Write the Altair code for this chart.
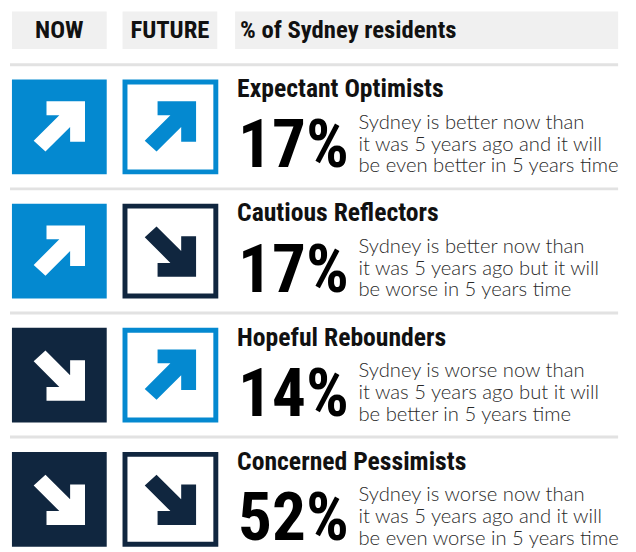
import altair as alt
import pandas as pd

# ---- data ----
headers = ["NOW", "FUTURE", "% of Sydney residents"]
groups = ["Expectant Optimists", "Cautious Reflectors", "Hopeful Rebounders", "Concerned Pessimists"]
shares = [17, 17, 14, 52]
now_dir = ["up", "up", "down", "down"]
future_dir = ["up", "down", "up", "down"]
desc_line1 = ["Sydney is better now than", "Sydney is better now than",
              "Sydney is worse now than", "Sydney is worse now than"]
desc_line2 = ["it was 5 years ago and it will", "it was 5 years ago but it will",
              "it was 5 years ago but it will", "it was 5 years ago and it will"]
desc_line3 = ["be even better in 5 years time", "be worse in 5 years time",
              "be better in 5 years time", "be even worse in 5 years time"]

# ---- styles ----
BLUE = "#0489d0"
NAVY = "#10263f"
COND = "Roboto Condensed, Noto Sans Condensed, Open Sans Condensed, Liberation Sans Narrow, DejaVu Sans Condensed, sans-serif"
BODY = "Lato, Open Sans, sans-serif"
UP_PATH = "M -0.5,-1 L 1,-1 L 1,0.58 L 0.42,0.58 L 0.42,0 L -0.54,0.96 L -1,0.54 L 0,-0.46 L -0.5,-0.46 Z"
DOWN_PATH = "M -0.5,1 L 1,1 L 1,-0.58 L 0.42,-0.58 L 0.42,0 L -0.54,-0.96 L -1,-0.54 L 0,0.46 L -0.5,0.46 Z"

header_df = pd.DataFrame({"col": list(range(len(headers))), "label": headers})
rows_df = pd.DataFrame({"i": list(range(len(groups))), "group": groups, "share": shares,
                        "now": now_dir, "future": future_dir})
desc_df = pd.DataFrame({
    "i": [i for i in range(len(groups)) for _ in range(3)],
    "line": [k for _ in range(len(groups)) for k in range(3)],
    "text": [t for trip in zip(desc_line1, desc_line2, desc_line3) for t in trip],
})

XS = alt.Scale(domain=[8, 636])
YS = alt.Scale(domain=[8, 552], reverse=True)
dir_color = alt.Scale(domain=["up", "down"], range=[BLUE, NAVY])
dir_shape = alt.Scale(domain=["up", "down"], range=[UP_PATH, DOWN_PATH])


def X(f):
    return alt.X(f, type="quantitative", scale=XS, axis=None)


def Y(f):
    return alt.Y(f, type="quantitative", scale=YS, axis=None)


# header boxes and labels
hdr = alt.Chart(header_df).transform_calculate(
    x0="[12, 124, 238][datum.col]",
    x1="[108, 220, 626][datum.col]",
    xc="[60, 172, 243][datum.col]",
    y0="8", y1="46", yb="35",
)
hdr_box = hdr.mark_rect(color="#f0f0f0").encode(x=X("x0"), x2="x1", y=Y("y0"), y2="y1")
hdr_txt_c = hdr.transform_filter("datum.col < 2").mark_text(
    font=COND, fontWeight="bold", fontSize=25, align="center", baseline="alphabetic", color="#111111"
).encode(x=X("xc"), y=Y("yb"), text="label:N")
hdr_txt_l = hdr.transform_filter("datum.col == 2").mark_text(
    font=COND, fontWeight="bold", fontSize=25, align="left", baseline="alphabetic", color="#111111"
).encode(x=X("xc"), y=Y("yb"), text="label:N")

base = alt.Chart(rows_df).transform_calculate(top="77 + 125.7 * datum.i")

sep = base.transform_calculate(ly="datum.top - 15", lx0="10", lx1="626").mark_rule(
    color="#e2e2e2", strokeWidth=3
).encode(x=X("lx0"), x2="lx1", y=Y("ly"))

now_box = base.transform_calculate(x0="12", x1="108", y0="datum.top", y1="datum.top + 96").mark_rect().encode(
    x=X("x0"), x2="x1", y=Y("y0"), y2="y1",
    color=alt.Color("now:N", scale=dir_color, legend=None),
)
fut_box = base.transform_calculate(
    x0="126.5", x1="218.5", y0="datum.top + 2.5", y1="datum.top + 93.5"
).mark_rect(fill="white", strokeWidth=5).encode(
    x=X("x0"), x2="x1", y=Y("y0"), y2="y1",
    stroke=alt.Stroke("future:N", scale=dir_color, legend=None),
)
now_arrow = base.transform_calculate(cx="60", cy="datum.top + 48").mark_point(
    filled=True, opacity=1, size=2704, strokeWidth=0
).encode(
    x=X("cx"), y=Y("cy"), color=alt.value("white"),
    shape=alt.Shape("now:N", scale=dir_shape, legend=None),
)
fut_arrow = base.transform_calculate(cx="172.5", cy="datum.top + 48").mark_point(
    filled=True, opacity=1, size=2704, strokeWidth=0
).encode(
    x=X("cx"), y=Y("cy"),
    color=alt.Color("future:N", scale=dir_color, legend=None),
    shape=alt.Shape("future:N", scale=dir_shape, legend=None),
)

title = base.transform_calculate(tx="240", ty="datum.top + 18").mark_text(
    font=COND, fontWeight="bold", fontSize=26, align="left", baseline="alphabetic", color="#111111"
).encode(x=X("tx"), y=Y("ty"), text="group:N")

pct = base.transform_calculate(tx="241", ty="datum.top + 89", lbl="datum.share + '%'").mark_text(
    font=COND, fontWeight="bold", fontSize=68, align="left", baseline="alphabetic", color="#000000"
).encode(x=X("tx"), y=Y("ty"), text="lbl:N")

desc = alt.Chart(desc_df).transform_calculate(
    tx="363", ty="77 + 125.7 * datum.i + 50 + 22 * datum.line"
).mark_text(
    font=BODY, fontWeight=300, fontSize=20.5, align="left", baseline="alphabetic", color="#2a2a2a"
).encode(x=X("tx"), y=Y("ty"), text="text:N")

chart = alt.layer(
    hdr_box, hdr_txt_c, hdr_txt_l, sep, now_box, fut_box, now_arrow, fut_arrow, title, pct, desc
).properties(
    width=628, height=544, padding=0, autosize=alt.AutoSizeParams(type="none"),
    background="white",
).configure_view(strokeWidth=0)

chart.save("out.html", embed_options={"renderer": "svg", "actions": False})
